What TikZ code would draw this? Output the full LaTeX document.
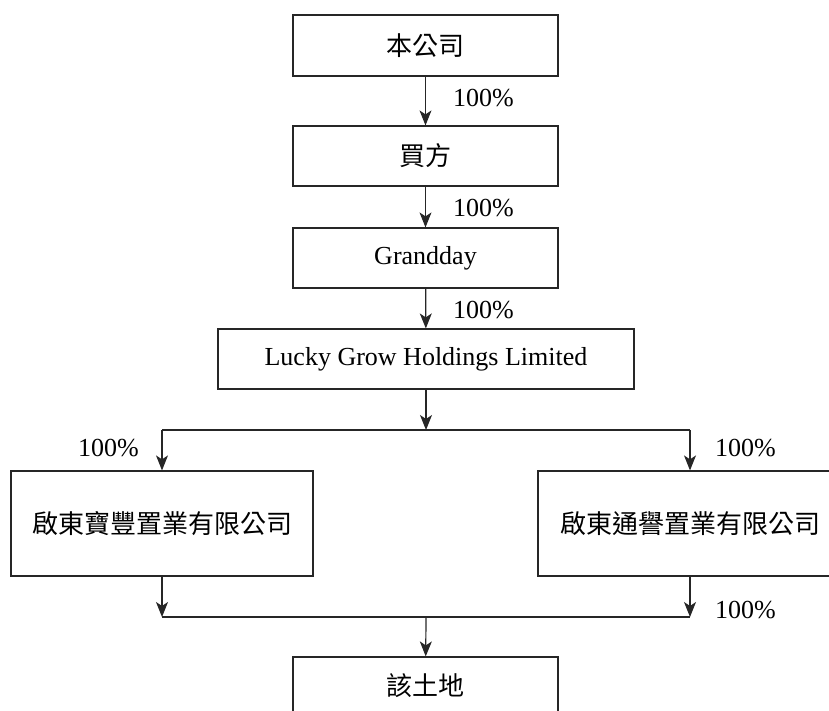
\documentclass[tikz,border=0pt]{standalone}
\usepackage{fontspec}
\setmainfont{Liberation Serif}
\newfontfamily\cjk{Noto Sans CJK TC}
\usetikzlibrary{arrows.meta}

\begin{document}
\begin{tikzpicture}[x=1pt,y=-1pt,
	box/.style={draw=black!85, line width=1.2pt, inner sep=0pt, font=\fontsize{26}{30}\selectfont},
	pct/.style={inner sep=0pt, anchor=west, font=\fontsize{26}{30}\selectfont},
	arr/.style={-{Stealth[length=15pt,width=12pt,inset=4pt]}, draw=black!85, line width=1.2pt},
	ln/.style={draw=black!85, line width=1.2pt}]
	\useasboundingbox (0,0) rectangle (829,711);
	\clip (0,0) rectangle (829,711);
	% chain of holdings
	\node[box, minimum width=265pt, minimum height=61pt] (co) at (425.5,45.5) {\cjk 本公司};
	\node[box, minimum width=265pt, minimum height=60pt] (buyer) at (425.5,156) {\cjk 買方};
	\node[box, minimum width=265pt, minimum height=60pt] (gd) at (425.5,258) {Grandday};
	\node[box, minimum width=416pt, minimum height=60pt] (lucky) at (426,359) {Lucky Grow Holdings Limited};
	\node[box, minimum width=302pt, minimum height=105pt] (bf) at (162,523.5) {\cjk 啟東寶豐置業有限公司};
	\node[box, minimum width=304pt, minimum height=105pt] (ty) at (690,523.5) {\cjk 啟東通譽置業有限公司};
	\node[box, minimum width=265pt, minimum height=58pt] (land) at (425.5,686) {\cjk 該土地};
	% junctions
	\coordinate (jt) at (426,430);
	\coordinate (jl) at (162,430);
	\coordinate (jr) at (690,430);
	\coordinate (bl) at (162,617);
	\coordinate (br) at (690,617);
	\coordinate (bm) at (426,617);
	% connectors
	\draw[arr] (co) -- (buyer);
	\draw[arr] (buyer) -- (gd);
	\draw[arr] (gd) -- (lucky);
	\draw[arr] (lucky) -- (jt);
	\draw[ln] (jl) -- (jr);
	\draw[arr] (jl) -- (bf);
	\draw[arr] (jr) -- (ty);
	\draw[arr] (bf) -- (bl);
	\draw[arr] (ty) -- (br);
	\draw[ln] (bl) -- (br);
	\draw[arr] (bm) -- (land);
	% percentages
	\node[pct] (p1) at (453,98) {100\%};
	\node[pct] (p2) at (453,208) {100\%};
	\node[pct] (p3) at (453,310) {100\%};
	\node[pct] (p4) at (78,448) {100\%};
	\node[pct] (p5) at (715,448) {100\%};
	\node[pct] (p6) at (715,610) {100\%};
\end{tikzpicture}
\end{document}
